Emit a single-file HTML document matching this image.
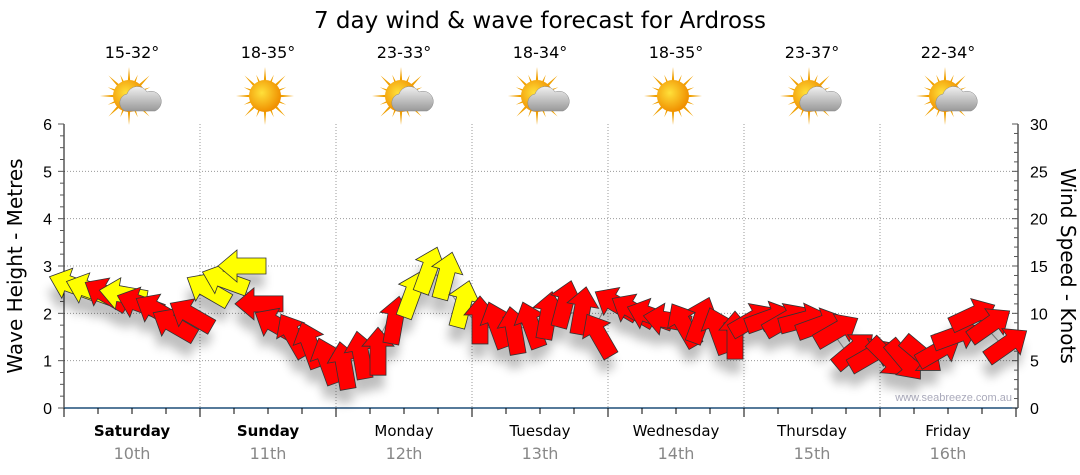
<!DOCTYPE html>
<html><head><meta charset="utf-8"><style>
body{margin:0;background:#fff;width:1080px;height:475px;overflow:hidden;font-family:"Liberation Sans",sans-serif}
svg{position:absolute;left:0;top:0}
</style></head><body>
<svg id="c" width="1080" height="475">
<defs>
<filter id="sh" x="-50%" y="-50%" width="200%" height="200%"><feGaussianBlur stdDeviation="5"/></filter>
<radialGradient id="sun" cx="40%" cy="40%" r="60%"><stop offset="0" stop-color="#ffe03a"/><stop offset="1" stop-color="#f09000"/></radialGradient>
<linearGradient id="cloud" x1="0" y1="0" x2="0" y2="1"><stop offset="0" stop-color="#f0f0f0"/><stop offset="1" stop-color="#999"/></linearGradient>
</defs>
</svg>
<script>
const days=["Saturday","Sunday","Monday","Tuesday","Wednesday","Thursday","Friday"];
const dates=["10th","11th","12th","13th","14th","15th","16th"];
const temps=["15-32°","18-35°","23-33°","18-34°","18-35°","23-37°","22-34°"];
const cloudy=[1,0,1,1,0,1,1];
const waveTicks=[0,1,2,3,4,5,6];
const windTicks=[0,5,10,15,20,25,30];
const windSpeed=[13,12.5,12,12,11,10.3,8.8,9.8,12.5,13.5,15,11,8.8,7.7,6.7,5,4.5,5.6,6,9.3,12,14.6,14,11,9.3,8.8,8.2,8.8,9.8,11,10.3,7.7,11,10.3,9.8,9.3,8.8,9.3,8.2,7.7,9.3,9.5,9.3,9.3,8.8,8.2,6.1,5.6,5.3,5,5.6,6.1,7.7,9.8,8.8,6.7];
const windDir=[290,290,300,280,290,300,300,300,300,290,270,270,300,330,340,340,350,350,0,10,20,20,15,15,0,340,350,340,10,15,10,330,300,300,290,280,330,20,340,0,60,70,60,75,70,60,50,60,135,140,130,60,70,65,55,55];
const seaBreeze=[1,1,0,1,0,0,0,0,1,1,1,0,0,0,0,0,0,0,0,0,1,1,1,1,0,0,0,0,0,0,0,0,0,0,0,0,0,0,0,0,0,0,0,0,0,0,0,0,0,0,0,0,0,0,0,0];
const waveHeight=[2.6,2.5,2.4,2.3,2.2,2.1,2.0,2.1,2.4,2.7,2.9,2.3,1.8,1.5,1.3,1.0,0.9,1.0,1.1,1.8,2.4,2.9,2.8,2.3,1.9,1.7,1.6,1.7,1.9,2.1,2.0,1.6,2.2,2.1,2.0,1.9,1.8,1.8,1.7,1.6,1.8,1.9,1.8,1.8,1.8,1.7,1.2,1.1,1.1,1.0,1.1,1.2,1.6,2.0,1.8,1.4];

const NS="http://www.w3.org/2000/svg";
const svg=document.getElementById('c');
const L=64,R=1018,T=124,B=408,DW=136;
const VF='"DejaVu Sans","Liberation Sans",sans-serif';
const yWave=v=>B-v*(B-T)/6, yWind=v=>B-v*(B-T)/30, xHour=h=>L+h*DW/24;
function el(t,a,p){const e=document.createElementNS(NS,t);for(const k in a)e.setAttribute(k,a[k]);(p||svg).appendChild(e);return e;}
function tx(s,x,y,a){const e=el('text',Object.assign({x:x,y:y,'font-family':'"Liberation Sans",sans-serif'},a));e.textContent=s;return e;}

let t=tx("7 day wind & wave forecast for Ardross",540,28,{'font-size':23,'text-anchor':'middle',fill:'#000','font-family':VF});



waveTicks.forEach(v=>{if(v>0&&v<6){const g=el('line',{x1:L,x2:R,y1:yWave(v),y2:yWave(v),stroke:'#999','stroke-dasharray':'1,2'});

}});
for(let d=1;d<7;d++){const g=el('line',{x1:L+d*DW,x2:L+d*DW,y1:T,y2:B,stroke:'#999','stroke-dasharray':'1,2'});

}

el('line',{x1:L,x2:L,y1:T,y2:B,stroke:'#000'});
el('line',{x1:R,x2:R,y1:T,y2:B,stroke:'#000'});
el('line',{x1:L,x2:R,y1:B,y2:B,stroke:'#1f4e79','stroke-width':1.5});
for(let i=0;i<=24;i++){const y=B-i*(B-T)/24;el('line',{x1:L-(i%4==0?6:4),x2:L,y1:y,y2:y,stroke:'#555'});}
for(let i=0;i<=30;i++){const y=yWind(i);el('line',{x1:R-(i%5==0?6:4),x2:R,y1:y,y2:y,stroke:'#555'});}
for(let h=0;h<=168;h+=6){const x=xHour(h);el('line',{x1:x,x2:x,y1:B,y2:B+(h%24==0?9:6),stroke:'#000'});}
waveTicks.forEach(v=>{const e=tx(String(v),L-12,yWave(v)+6,{'font-size':16,'text-anchor':'end'});

});
windTicks.forEach(v=>{const e=tx(String(v),R+12,yWind(v)+6,{'font-size':16});

});
let yl=tx("Wave Height - Metres",0,0,{'font-size':20,'text-anchor':'middle',transform:'translate(22,266) rotate(-90)','font-family':VF});


let yr=tx("Wind Speed - Knots",0,0,{'font-size':20,'text-anchor':'middle',transform:'translate(1061,266) rotate(90)','font-family':VF});


let wm=tx("www.seabreeze.com.au",1012,401,{'font-size':11,'text-anchor':'end',fill:'#aab'});



days.forEach((d,i)=>{const cx=L+DW*i+DW/2;
const a=tx(d,cx,436,{'font-size':15,'text-anchor':'middle','font-weight':i<2?'bold':'normal','font-family':VF});


const b=tx(dates[i],cx,459,{'font-size':16,'text-anchor':'middle',fill:'#888','font-family':VF});


const c=tx(temps[i],cx,58,{'font-size':16,'text-anchor':'middle','font-family':VF});


const g=el('g',{transform:`translate(${cx-3},96)`});


for(let k=0;k<16;k++){const an=k*22.5,len=k%2?23:29;el('polygon',{points:`-2.5,0 2.5,0 0,-${len}`,fill:'#f0a000',transform:`rotate(${an})`},g);}
el('circle',{cx:0,cy:0,r:16,fill:'url(#sun)'},g);
if(cloudy[i]){el('path',{d:'M-4,15 a9,9 0 0 1 2,-17 a11,11 0 0 1 20,-2 a9,9 0 0 1 8,19 z',fill:'url(#cloud)',stroke:'#888','stroke-width':0.5},g);}
});

let pts=waveHeight.map((v,i)=>xHour(i*3)+','+yWave(v)).join(' ');
const wl=el('polyline',{points:pts,fill:'none',stroke:'#999','stroke-width':1});



const AP='M0,-24 L16,-5 L8,-5 L8,24 L-8,24 L-8,-5 L-16,-5 Z';
const shg=el('g',{filter:'url(#sh)',opacity:0.25});
windSpeed.forEach((v,i)=>{el('path',{d:AP,fill:'#000',transform:`translate(${xHour(i*3)+6},${yWind(v)+14}) rotate(${windDir[i]})`},shg);});
windSpeed.forEach((v,i)=>{
const a=el('path',{d:AP,fill:seaBreeze[i]?'#ffff00':'#ff0000',stroke:'#333','stroke-width':0.8,transform:`translate(${xHour(i*3)+8},${yWind(v)}) rotate(${windDir[i]})`});


});
</script>
</body></html>
